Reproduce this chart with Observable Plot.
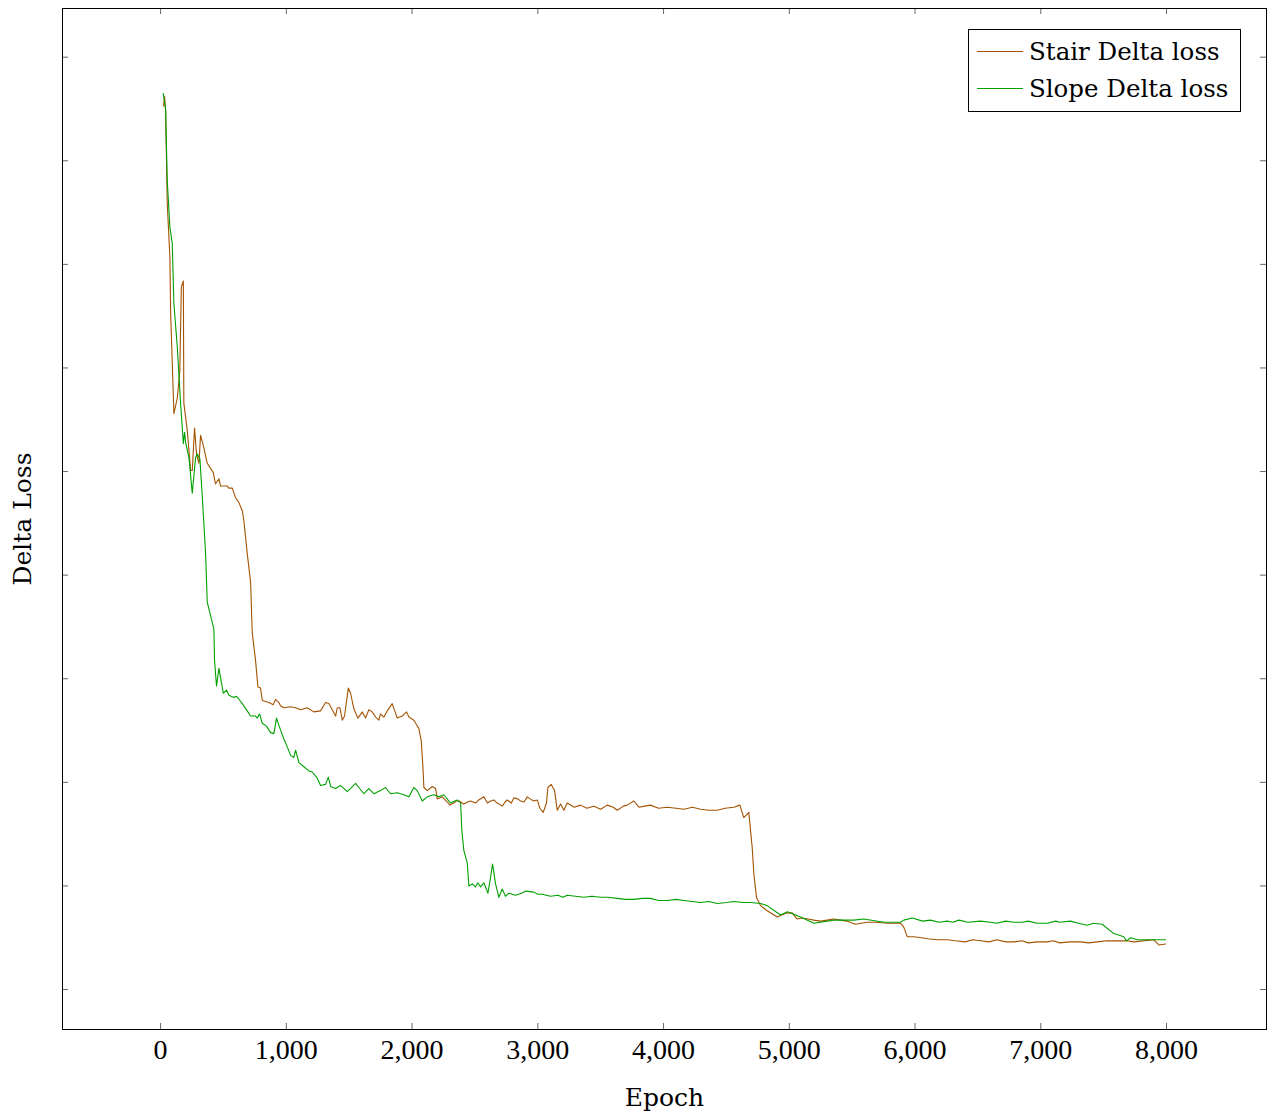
<!DOCTYPE html>
<html>
<head>
<meta charset="utf-8">
<script src="https://cdn.jsdelivr.net/npm/d3@7"></script>
<script src="https://cdn.jsdelivr.net/npm/@observablehq/plot@0.6"></script>
<style>
  html, body { margin: 0; padding: 0; background: #fff; }
  #wrap { position: relative; width: 1269px; height: 1115px; }
  #legend {
    position: absolute; left: 968px; top: 29px; width: 271px; height: 81px;
    border: 1px solid #000; background: #fff; box-sizing: content-box;
    font-family: "DejaVu Serif", serif; font-size: 24.5px; color: #000;
  }
  .row { position: absolute; left: 8px; height: 30px; display: flex; align-items: center; white-space: nowrap; }
  .row .sw { width: 46px; height: 0; border-top: 1px solid; margin-right: 6px; }
</style>
</head>
<body>
<div id="wrap"></div>
<script>
const seriesNames = ["Stair Delta loss", "Slope Delta loss"];
const seriesColors = ["#a35200", "#00a000"];
const xTicks = [0, 1000, 2000, 3000, 4000, 5000, 6000, 7000, 8000];
const yTicks = [0, 0.1, 0.2, 0.3, 0.4, 0.5, 0.6, 0.7, 0.8, 0.9];

// [epoch, delta loss] — Stair Delta loss
const stairPoints = [
  [24,0.853],[32,0.862],[40,0.848],[53,0.759],[74,0.707],[80,0.653],[106,0.556],[133,0.571],[153,0.597],[165,0.678],
  [181,0.684],[185,0.566],[212,0.540],[239,0.501],[252,0.501],[270,0.542],[286,0.517],[305,0.508],[318,0.535],[340,0.525],
  [371,0.508],[419,0.499],[437,0.488],[464,0.493],[477,0.486],[530,0.486],[543,0.484],[570,0.484],[596,0.475],[623,0.470],
  [650,0.462],[662,0.453],[689,0.421],[716,0.393],[729,0.344],[755,0.318],[774,0.292],[795,0.291],[809,0.279],[861,0.277],
  [896,0.275],[914,0.280],[941,0.277],[954,0.274],[980,0.272],[1034,0.273],[1074,0.272],[1113,0.270],[1167,0.272],[1219,0.268],
  [1272,0.269],[1312,0.277],[1338,0.276],[1365,0.270],[1392,0.264],[1405,0.272],[1426,0.272],[1445,0.260],[1463,0.264],[1493,0.291],
  [1511,0.286],[1537,0.271],[1569,0.262],[1604,0.268],[1630,0.262],[1656,0.270],[1683,0.268],[1710,0.263],[1736,0.260],[1749,0.266],
  [1776,0.263],[1803,0.269],[1842,0.276],[1882,0.262],[1922,0.264],[1956,0.268],[1975,0.263],[2014,0.260],[2054,0.252],[2073,0.240],
  [2086,0.215],[2094,0.195],[2121,0.192],[2161,0.196],[2187,0.194],[2200,0.184],[2240,0.186],[2280,0.181],[2300,0.178],[2332,0.180],
  [2350,0.182],[2372,0.182],[2412,0.179],[2440,0.181],[2465,0.182],[2505,0.180],[2530,0.183],[2571,0.186],[2600,0.180],[2624,0.182],
  [2650,0.183],[2677,0.180],[2717,0.177],[2740,0.181],[2757,0.183],[2790,0.180],[2809,0.185],[2840,0.184],[2863,0.182],[2890,0.181],
  [2916,0.186],[2940,0.184],[2966,0.182],[2996,0.183],[3016,0.175],[3043,0.171],[3069,0.180],[3080,0.195],[3107,0.198],[3133,0.192],
  [3155,0.173],[3181,0.179],[3207,0.173],[3234,0.180],[3290,0.176],[3340,0.178],[3390,0.175],[3446,0.177],[3500,0.174],[3552,0.178],
  [3600,0.176],[3632,0.173],[3680,0.177],[3711,0.178],[3764,0.182],[3804,0.176],[3850,0.177],[3896,0.178],[3960,0.175],[4029,0.176],
  [4100,0.175],[4161,0.174],[4230,0.176],[4294,0.174],[4360,0.173],[4427,0.173],[4490,0.175],[4559,0.176],[4607,0.178],[4638,0.166],
  [4678,0.171],[4705,0.137],[4718,0.112],[4739,0.089],[4771,0.081],[4824,0.076],[4904,0.070],[4940,0.072],[4984,0.074],[5023,0.074],
  [5063,0.068],[5100,0.069],[5150,0.068],[5195,0.067],[5250,0.066],[5302,0.067],[5350,0.068],[5408,0.067],[5460,0.066],[5527,0.063],
  [5570,0.064],[5620,0.065],[5700,0.065],[5779,0.064],[5884,0.064],[5911,0.060],[5938,0.051],[5990,0.051],[6050,0.050],[6100,0.049],
  [6180,0.048],[6256,0.048],[6320,0.047],[6400,0.046],[6460,0.048],[6521,0.047],[6590,0.046],[6650,0.048],[6720,0.046],[6786,0.046],
  [6850,0.047],[6900,0.045],[6970,0.046],[7051,0.046],[7100,0.047],[7150,0.045],[7230,0.046],[7316,0.046],[7380,0.045],[7450,0.046],
  [7520,0.047],[7581,0.047],[7687,0.047],[7740,0.046],[7899,0.048],[7939,0.043],[7992,0.044]
];

// [epoch, delta loss] — Slope Delta loss
const slopePoints = [
  [21,0.865],[40,0.850],[53,0.781],[74,0.736],[93,0.720],[106,0.662],[133,0.620],[159,0.566],[181,0.527],[191,0.538],
  [199,0.528],[225,0.514],[252,0.479],[278,0.513],[292,0.517],[313,0.512],[332,0.475],[358,0.421],[371,0.374],[424,0.348],
  [429,0.318],[445,0.293],[464,0.310],[499,0.286],[525,0.289],[543,0.284],[583,0.282],[604,0.283],[631,0.279],[650,0.276],
  [689,0.269],[716,0.264],[755,0.264],[769,0.262],[787,0.266],[809,0.257],[843,0.254],[875,0.248],[901,0.247],[922,0.262],
  [941,0.255],[980,0.242],[1008,0.234],[1034,0.226],[1060,0.224],[1074,0.231],[1100,0.219],[1140,0.215],[1179,0.211],[1206,0.210],
  [1246,0.204],[1272,0.197],[1312,0.198],[1334,0.205],[1352,0.196],[1392,0.194],[1431,0.197],[1485,0.191],[1551,0.199],[1577,0.195],
  [1617,0.189],[1656,0.194],[1696,0.189],[1749,0.192],[1789,0.195],[1829,0.189],[1882,0.190],[1935,0.188],[1975,0.186],[2014,0.195],
  [2041,0.192],[2081,0.182],[2121,0.186],[2173,0.188],[2213,0.186],[2253,0.188],[2306,0.180],[2359,0.183],[2386,0.180],[2396,0.153],
  [2412,0.134],[2439,0.122],[2452,0.100],[2479,0.102],[2505,0.099],[2523,0.103],[2545,0.099],[2571,0.103],[2603,0.093],[2624,0.108],
  [2640,0.121],[2664,0.102],[2690,0.089],[2717,0.097],[2743,0.090],[2770,0.093],[2823,0.091],[2870,0.093],[2903,0.095],[2969,0.094],
  [3000,0.092],[3035,0.092],[3101,0.090],[3160,0.091],[3200,0.089],[3234,0.091],[3300,0.090],[3366,0.089],[3430,0.090],[3499,0.089],
  [3560,0.089],[3632,0.088],[3700,0.087],[3764,0.087],[3830,0.088],[3896,0.088],[3960,0.086],[4029,0.086],[4100,0.087],[4161,0.086],
  [4230,0.085],[4294,0.084],[4360,0.085],[4427,0.083],[4500,0.084],[4559,0.085],[4630,0.084],[4692,0.084],[4771,0.083],[4824,0.081],
  [4930,0.072],[4984,0.075],[5090,0.070],[5195,0.064],[5354,0.067],[5513,0.067],[5593,0.068],[5752,0.065],[5884,0.065],[5911,0.067],
  [5977,0.069],[6060,0.066],[6123,0.067],[6190,0.065],[6256,0.066],[6300,0.065],[6350,0.067],[6420,0.065],[6521,0.066],[6600,0.065],
  [6650,0.064],[6720,0.066],[6786,0.065],[6850,0.065],[6900,0.066],[6970,0.064],[7051,0.064],[7120,0.066],[7150,0.065],[7236,0.066],
  [7300,0.064],[7369,0.062],[7420,0.064],[7488,0.063],[7581,0.054],[7660,0.051],[7682,0.047],[7714,0.050],[7767,0.048],[7992,0.048]
];

const rows = [
  ...stairPoints.map(([e, v]) => ({epoch: e, loss: v, series: seriesNames[0]})),
  ...slopePoints.map(([e, v]) => ({epoch: e, loss: v, series: seriesNames[1]}))
];

const W = 1269, H = 1115, mL = 62, mR = 3, mT = 8, mB = 86;
const frameH = H - mT - mB, frameW = W - mL - mR, tk = 6;

const chart = Plot.plot({
  width: W, height: H,
  marginLeft: mL, marginRight: mR, marginTop: mT, marginBottom: mB,
  style: {background: "#fff", overflow: "visible"},
  x: {domain: [-780, 8795], axis: null},
  y: {domain: [-0.0386, 0.947], axis: null},
  color: {domain: seriesNames, range: seriesColors},
  marks: [
    Plot.ruleX(xTicks, {x: d => d, insetTop: frameH - tk, stroke: "#666", strokeWidth: 1}),
    Plot.ruleX(xTicks, {x: d => d, insetBottom: frameH - tk, stroke: "#666", strokeWidth: 1}),
    Plot.ruleY(yTicks, {y: d => d, insetRight: frameW - tk, stroke: "#666", strokeWidth: 1}),
    Plot.ruleY(yTicks, {y: d => d, insetLeft: frameW - tk, stroke: "#666", strokeWidth: 1}),
    Plot.line(rows, {x: "epoch", y: "loss", z: "series", stroke: "series", strokeWidth: 1.1}),
    Plot.frame({stroke: "#000", strokeWidth: 1}),
    Plot.axisX(xTicks, {tickSize: 0, tickPadding: 10, tickFormat: d3.format(","), fontSize: 28, fontFamily: "Liberation Serif", label: null, color: "#000"}),
    Plot.text(["Epoch"], {frameAnchor: "bottom", lineAnchor: "middle", textAnchor: "middle", dy: 68, fontSize: 25, fontFamily: "DejaVu Serif", fill: "#000"}),
    Plot.text(["Delta Loss"], {frameAnchor: "left", lineAnchor: "middle", textAnchor: "middle", dx: -40, rotate: -90, fontSize: 25, fontFamily: "DejaVu Serif", fill: "#000"})
  ]
});

const wrap = document.getElementById("wrap");
wrap.appendChild(chart);

const legend = document.createElement("div");
legend.id = "legend";
seriesNames.forEach((name, i) => {
  const r = document.createElement("div");
  r.className = "row";
  r.style.top = (6 + i * 37) + "px";
  const sw = document.createElement("span");
  sw.className = "sw";
  sw.style.borderTopColor = seriesColors[i];
  const t = document.createElement("span");
  t.textContent = name;
  r.appendChild(sw); r.appendChild(t);
  legend.appendChild(r);
});
wrap.appendChild(legend);
</script>
</body>
</html>
